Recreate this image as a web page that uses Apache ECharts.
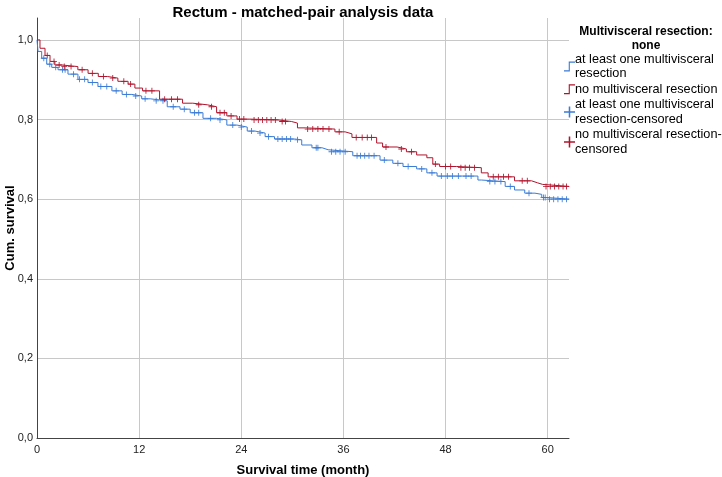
<!DOCTYPE html>
<html><head><meta charset="utf-8">
<script src="https://cdn.jsdelivr.net/npm/echarts@6/dist/echarts.min.js"></script>
<style>html,body{margin:0;padding:0;background:#fff}#c{width:722px;height:477px}</style>
</head><body><div id="c"></div>
<script>
// Kaplan-Meier step data: [month, cumulative survival]
const redTimes = [0,0.35,0.94,1.53,2.1,2.9,4.8,6.0,7.2,8.3,9.5,10.7,11.5,12.4,14.4,17.1,18.3,20.0,21.1,22.3,23.5,25.0,28.3,29.9,30.6,31.5,35.0,36.2,37.0,39.9,40.6,42.3,43.4,44.6,45.8,46.5,47.3,49.3,52.2,53.0,56.1,58.1,58.8,59.4,62.5];
const redSurv  = [1.0,0.979,0.961,0.946,0.937,0.933,0.925,0.916,0.908,0.904,0.896,0.889,0.879,0.872,0.851,0.841,0.837,0.832,0.817,0.809,0.801,0.799,0.795,0.791,0.779,0.776,0.769,0.764,0.755,0.741,0.731,0.726,0.719,0.711,0.704,0.688,0.682,0.679,0.666,0.656,0.646,0.641,0.637,0.632,0.632];
const blueTimes = [0,0.12,0.55,1.14,1.73,2.47,3.64,4.81,5.99,7.16,8.8,10.0,11.15,12.3,13.3,15.3,16.8,18.0,19.5,21.1,22.3,23.5,24.7,25.6,26.8,27.9,30.3,31.1,32.3,33.5,34.2,37.1,40.3,41.8,43.0,44.6,45.8,47.0,51.8,52.2,55.0,56.1,57.3,58.5,59.3,59.9,62.5];
const blueSurv  = [1.0,0.971,0.954,0.939,0.931,0.925,0.914,0.901,0.893,0.883,0.872,0.863,0.859,0.852,0.847,0.832,0.826,0.817,0.803,0.799,0.786,0.781,0.771,0.766,0.757,0.751,0.749,0.736,0.729,0.724,0.719,0.709,0.698,0.690,0.682,0.676,0.666,0.658,0.648,0.644,0.632,0.623,0.615,0.612,0.604,0.600,0.600];
const redCensored = [1.2,2.0,2.6,3.2,4.0,5.3,6.5,7.8,8.9,10.2,11.0,12.8,13.5,15.0,15.8,16.5,19.0,20.5,21.5,22.0,22.8,23.8,24.3,25.5,26.0,26.5,27.0,27.5,28.0,28.8,29.2,31.8,32.4,33.0,33.6,34.3,35.5,37.5,38.2,38.8,39.3,41.0,42.8,44.0,46.8,48.0,48.6,49.8,50.3,50.8,51.4,53.6,54.2,54.8,55.4,57.0,57.6,59.8,60.3,60.8,61.3,61.8,62.2];
const blueCensored = [0.8,1.5,2.2,3.0,3.3,4.3,5.0,5.6,6.5,7.5,8.2,9.3,10.5,11.6,12.7,14.0,14.8,16.0,17.3,18.5,19.0,20.4,21.5,23.0,24.0,25.2,26.2,27.2,28.3,28.8,29.3,29.8,30.6,32.8,33.0,34.6,35.1,35.6,36.2,37.6,38.0,38.5,39.0,39.6,40.8,42.4,43.6,45.2,46.4,47.5,48.2,48.8,49.5,50.4,51.0,53.2,53.8,54.5,55.6,57.8,59.5,59.7,60.2,60.7,61.2,61.7,62.2];
const xTicks = [0,12,24,36,48,60];
const yTicks = [0,0.2,0.4,0.6,0.8,1.0];

const nameMVR = 'at least one multivisceral resection';
const nameNo = 'no multivisceral resection';
const nameMVRc = 'at least one multivisceral resection-censored';
const nameNoc = 'no multivisceral resection-censored';
const blue = '#3a7bd5', red = '#b0142c';

function pairs(t, s){ return t.map((x,i)=>[x,s[i]]); }
function survAt(t, s, x){ let v = s[0]; for(let i=0;i<t.length;i++){ if(t[i]<=x) v=s[i]; } return v; }
function censorPts(c, t, s){ return c.map(x=>[x, survAt(t,s,x)]); }

const plusPath = 'path://M4.3,0L5.7,0L5.7,4.3L10,4.3L10,5.7L5.7,5.7L5.7,10L4.3,10L4.3,5.7L0,5.7L0,4.3L4.3,4.3Z';
const stepPath = 'path://M0,8.6L4.3,8.6L4.3,0.6L10,0.6L10,1.6L5.3,1.6L5.3,9.6L0,9.6Z';
const fmtMap = {};
fmtMap[nameMVR] = 'at least one multivisceral\nresection';
fmtMap[nameNo] = nameNo;
fmtMap[nameMVRc] = 'at least one multivisceral\nresection-censored';
fmtMap[nameNoc] = 'no multivisceral resection-\ncensored';

const font = 'Liberation Sans, Arial, sans-serif';
const chart = echarts.init(document.getElementById('c'), null, {renderer:'canvas'});
chart.setOption({
  animation:false,
  backgroundColor:'#fff',
  title:[
    {text:'Rectum - matched-pair analysis data', left:298, top:0, textAlign:'center',
     textStyle:{fontFamily:font, fontWeight:'bold', fontSize:15, color:'#000'}},
    {text:'Multivisceral resection:\nnone', left:641, top:20, textAlign:'center',
     textStyle:{fontFamily:font, fontWeight:'bold', fontSize:12, lineHeight:14, color:'#000'}}
  ],
  legend:{
    orient:'vertical', left:559, top:47, itemGap:1, itemWidth:11, itemHeight:11,
    formatter:n=>fmtMap[n],
    textStyle:{fontFamily:font, fontSize:12.7, lineHeight:14.5, color:'#000', padding:[0,0,0,-5]},
    data:[{name:nameMVR, icon:stepPath},{name:nameNo, icon:stepPath},{name:nameMVRc, icon:plusPath},{name:nameNoc, icon:plusPath}]
  },
  grid:{left:37, right:153, top:18, bottom:39, containLabel:false, outerBoundsMode:'none'},
  xAxis:{type:'value', min:0, max:62.5, interval:12,
    name:'Survival time (month)', nameLocation:'middle', nameGap:26, nameMoveOverlap:false,
    nameTextStyle:{fontFamily:font, fontWeight:'bold', fontSize:13, color:'#000'},
    axisLine:{show:true, onZero:false, lineStyle:{color:'#444', width:1}},
    axisTick:{show:false},
    axisLabel:{fontFamily:font, fontSize:11, color:'#222', margin:6, showMaxLabel:false,
      formatter:v=> xTicks.indexOf(v)>=0 ? String(v) : ''},
    splitLine:{show:true, showMaxLine:false, showMinLine:false, lineStyle:{color:'#c8c8c8', width:1}}
  },
  yAxis:{type:'value', min:0, max:1.055, interval:0.2,
    name:'Cum. survival', nameLocation:'middle', nameGap:20, nameRotate:90, nameMoveOverlap:false,
    nameTextStyle:{fontFamily:font, fontWeight:'bold', fontSize:13, color:'#000'},
    axisLine:{show:true, onZero:false, lineStyle:{color:'#444', width:1}},
    axisTick:{show:false},
    axisLabel:{fontFamily:font, fontSize:11, color:'#222', margin:4, showMaxLabel:false,
      formatter:v=>{ const m = yTicks.find(t=>Math.abs(t-v)<1e-6); return m===undefined ? '' : m.toFixed(1).replace('.', ','); }},
    splitLine:{show:true, showMaxLine:false, showMinLine:false, lineStyle:{color:'#c8c8c8', width:1}}
  },
  series:[
    {name:nameMVR, type:'line', step:'end', showSymbol:false, symbol:'none', data:pairs(blueTimes, blueSurv),
     lineStyle:{color:blue, width:1}, itemStyle:{color:blue}, z:3},
    {name:nameNo, type:'line', step:'end', showSymbol:false, symbol:'none', data:pairs(redTimes, redSurv),
     lineStyle:{color:red, width:1}, itemStyle:{color:red}, z:4},
    {name:nameMVRc, type:'scatter', symbol:plusPath, symbolSize:6, data:censorPts(blueCensored, blueTimes, blueSurv),
     itemStyle:{color:blue, opacity:1}, z:5},
    {name:nameNoc, type:'scatter', symbol:plusPath, symbolSize:6, data:censorPts(redCensored, redTimes, redSurv),
     itemStyle:{color:red, opacity:1}, z:6}
  ]
});
</script></body></html>
